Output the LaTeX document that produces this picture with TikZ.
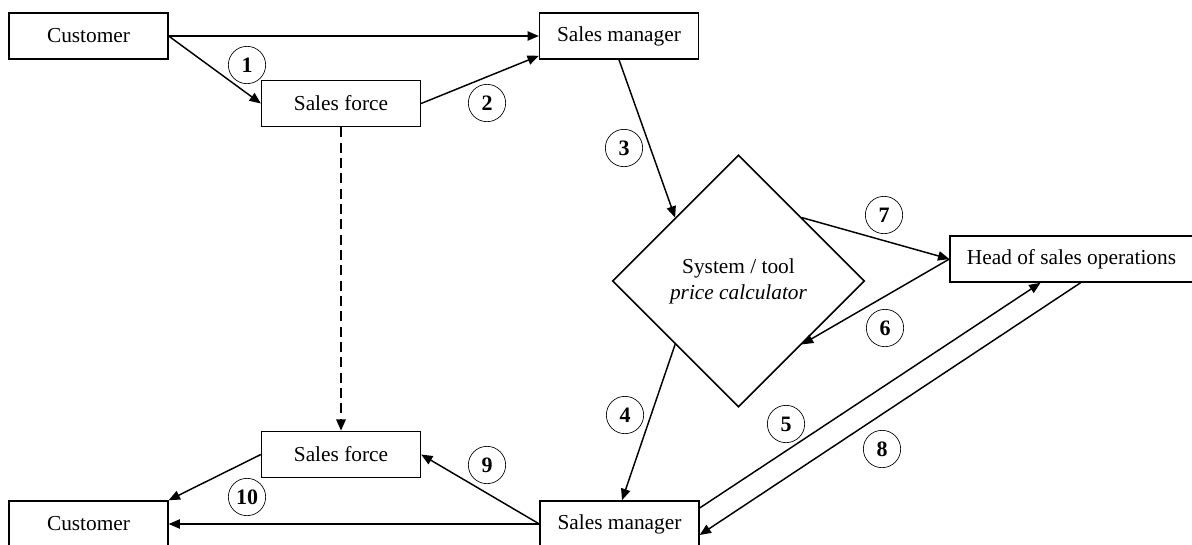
\documentclass[tikz,border=0pt]{standalone}
\usepackage{fontspec}
\setmainfont{Liberation Serif}
\usetikzlibrary{shapes.geometric,arrows.meta}
\begin{document}
\begin{tikzpicture}[x=0.75pt,y=-0.75pt,
 box/.style={draw, line width=1.2pt, minimum width=119pt, minimum height=34.5pt, inner sep=0pt, font=\fontsize{16}{19}\selectfont},
 num/.style={draw, circle, line width=0.5pt, minimum size=28pt, inner sep=0pt, font=\fontsize{16.5}{19}\selectfont\bfseries},
 arr/.style={line width=1.1pt, -{Triangle[length=8.5pt,width=7pt]}},
 dasharr/.style={line width=1.5pt, dash pattern=on 7.5pt off 4pt, -{Triangle[length=8.5pt,width=7pt]}},
]
\clip (0,0) rectangle (1192,544);
\fill[white] (0,0) rectangle (1192,544);
% boxes
\node[box] (cust1) at (88.5,36) {Customer};
\node[box] (sm1) at (619,36) {Sales manager};
\node[box] (sf1) at (341,103.5) {Sales force};
\node[draw, diamond, line width=1.2pt, minimum width=189pt, minimum height=189pt, inner sep=0pt, align=center, font=\fontsize{16}{19.5}\selectfont] (dia) at (738.5,281) {System / tool\\\textit{price calculator}};
\node[box, minimum width=182pt] (head) at (1071.5,259) {Head of sales operations};
\node[box] (sf2) at (341,454.5) {Sales force};
\node[box] (cust2) at (88.5,524) {Customer};
\node[box] (sm2) at (619.5,524) {Sales manager};
% connectors
\draw[arr] (cust1.east) -- (sm1.west);
\draw[arr] (cust1.east) -- (sf1.west);
\draw[arr] (sf1.east) -- ([shift={(0,-4)}]sm1.south west);
\draw[arr] (sm1.south) -- (dia.north west);
\draw[arr] (dia.south west) -- ([shift={(2.5,0)}]sm2.north);
\draw[arr] (dia.north east) -- (head.west);
\draw[arr] (head.west) -- (dia.south east);
\draw[arr] ([shift={(0,-16)}]sm2.east) -- ([shift={(-31,0)}]head.south);
\draw[arr] ([shift={(9,0)}]head.south) -- ([shift={(0,11)}]sm2.east);
\draw[arr] (sm2.west) -- (sf2.east);
\draw[arr] (sm2.west) -- (cust2.east);
\draw[arr] (sf2.west) -- (cust2.north east);
\draw[dasharr] (sf1.south) -- (sf2.north);
% numbers
\node[num] (c1) at (247,65) {1};
\node[num] (c2) at (487,103) {2};
\node[num] (c3) at (624,148) {3};
\node[num] (c4) at (625,415) {4};
\node[num] (c5) at (786,424) {5};
\node[num] (c6) at (885,328) {6};
\node[num] (c7) at (884,215) {7};
\node[num] (c8) at (882,449) {8};
\node[num] (c9) at (487,465) {9};
\node[num] (c10) at (247,497) {10};
\end{tikzpicture}
\end{document}
